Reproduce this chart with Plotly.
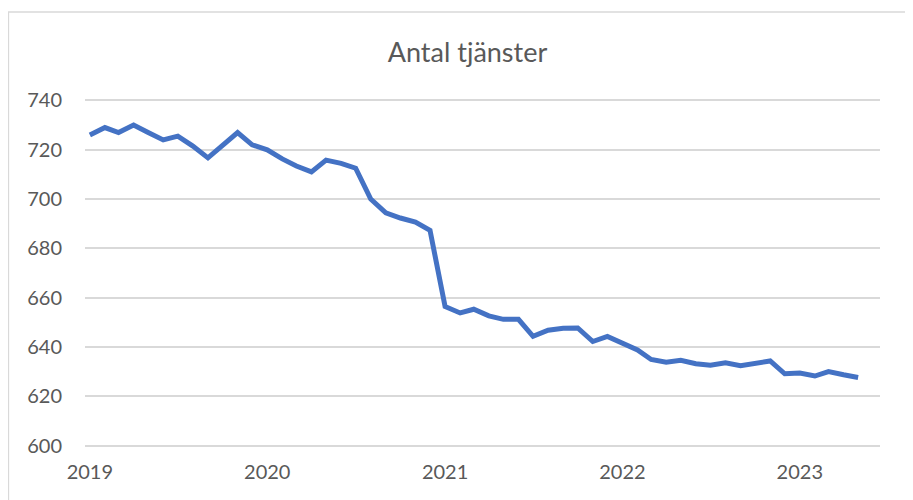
import plotly.graph_objects as go
import pandas as pd

# Monthly values, Jan 2019 – May 2023
months = pd.date_range("2019-01-01", "2023-05-01", freq="MS")
values = [
    726, 729, 727, 730, 727, 724, 725.5, 721.5, 716.7, 722, 727, 722,
    720, 716.3, 713.4, 711, 715.8, 714.5, 712.5, 700, 694.4, 692.3, 690.7, 687.3,
    656.4, 653.8, 655.3, 652.6, 651.2, 651.2, 644.3, 646.8, 647.6, 647.7, 642.2, 644.3,
    641.6, 638.8, 634.9, 633.8, 634.6, 633.2, 632.6, 633.6, 632.4, 633.3, 634.3,
    629.1, 629.4, 628.2, 630.0, 628.7, 627.6,
]
year_ticks = ["2019-01-01", "2020-01-01", "2021-01-01", "2022-01-01", "2023-01-01"]
year_labels = ["2019", "2020", "2021", "2022", "2023"]
y_ticks = [600, 620, 640, 660, 680, 700, 720, 740]
title_text = "Antal tjänster"

fig = go.Figure()
fig.add_trace(go.Scatter(
    x=months, y=values, mode="lines",
    line=dict(color="#4472C4", width=5),
    hoverinfo="x+y", showlegend=False,
))

grey = "#595959"
L, T, PW, PH = 77, 90, 795, 350
fig.update_layout(
    width=913, height=500,
    margin=dict(l=L, r=913 - L - PW, t=T, b=500 - T - PH),
    paper_bgcolor="white", plot_bgcolor="white",
    font=dict(family="Lato, Carlito, sans-serif", color=grey),
    title=dict(text=title_text, x=459.5 / 913, xref="container", xanchor="center",
               y=1 - 45 / 500, yanchor="middle",
               font=dict(size=27, color=grey, family="Lato, sans-serif")),
    xaxis=dict(
        range=["2018-12-22", "2023-06-15"],
        tickvals=year_ticks, ticktext=year_labels,
        showgrid=False, zeroline=False, showline=False,
        tickfont=dict(size=20, color=grey),
        ticks="", ticklabelstandoff=10,
    ),
    yaxis=dict(
        range=[599, 741],
        tickvals=y_ticks,
        showgrid=True, gridcolor="#D9D9D9", gridwidth=1.5,
        zeroline=False, showline=False,
        tickfont=dict(size=20, color=grey),
        ticks="", ticklabelstandoff=22,
    ),
    shapes=[dict(
        type="rect", xref="paper", yref="paper",
        x0=(0.5 - L) / PW, x1=1.2, y0=-0.3, y1=(T + PH - 4) / PH,
        line=dict(color="#D9D9D9", width=1.3), fillcolor="rgba(0,0,0,0)",
        layer="below",
    )],
)

fig.write_html("out.html")
